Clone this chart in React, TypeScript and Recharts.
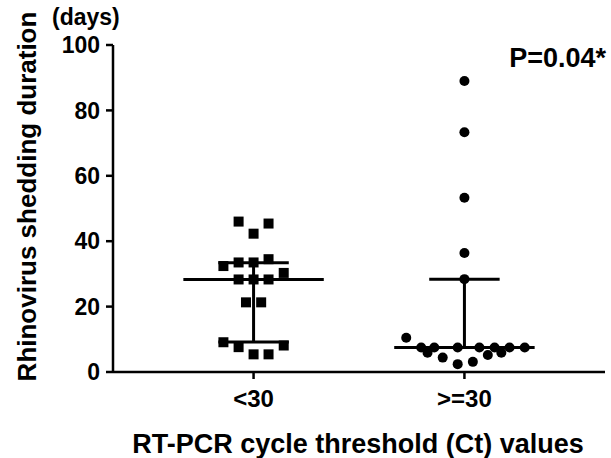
import React from "react";
import {
  ScatterChart,
  Scatter,
  XAxis,
  YAxis,
  ReferenceLine,
} from "recharts";

const categories = ["<30", ">=30"];

// Ct < 30 group (squares): horizontal jitter (category units) and days
const lowCtJitter = [-0.071, 0.071, 0, 0.071, -0.071, 0, -0.143, 0.143, -0.071, 0, 0.071, -0.036, 0.036, -0.143, 0.143, -0.071, 0, 0.071];
const lowCtDays = [46, 45.4, 42.3, 34.5, 33.5, 33.5, 32.4, 30.3, 28.3, 28.3, 28.3, 21.3, 21.3, 9.1, 8.1, 7.6, 5.4, 5.4];

// Ct >= 30 group (circles)
const highCtJitter = [0, 0, 0, 0, 0, -0.276, -0.205, -0.143, -0.032, 0.071, 0.143, 0.214, 0.286, -0.175, 0.111, 0.175, -0.103, 0.04, -0.032];
const highCtDays = [89, 73.3, 53.3, 36.4, 28.4, 10.5, 7.5, 7.5, 7.5, 7.5, 7.5, 7.5, 7.5, 5.9, 5.2, 5.9, 4.4, 3.1, 2.4];

// Median with interquartile range
const medians = [28.3, 7.5];
const lowerQuartiles = [9.2, 7.5];
const upperQuartiles = [33.4, 28.4];

const yTicks = [0, 20, 40, 60, 80, 100];

const FONT = "'Liberation Sans', Arial, Helvetica, sans-serif";

const lowData = lowCtDays.map((y, i) => ({ x: 1 + lowCtJitter[i], y }));
const highData = highCtDays.map((y, i) => ({ x: 2 + highCtJitter[i], y }));

const Square = (props: any) => {
  const { cx, cy } = props;
  return <rect x={cx - 5} y={cy - 5} width={10} height={10} fill="#000" />;
};
const Dot = (props: any) => {
  const { cx, cy } = props;
  return <circle cx={cx} cy={cy} r={5} fill="#000" />;
};

export default function App() {
  const lineProps = { stroke: "#000", strokeWidth: 3, ifOverflow: "visible" as const };
  return (
    <div style={{ position: "absolute", left: 0, top: 0, width: 611, height: 458, background: "#fff" }}>
      <ScatterChart width={611} height={458} margin={{ top: 45, right: 6, left: 0, bottom: 0 }}>
        <XAxis
          type="number"
          dataKey="x"
          domain={[1 / 3, 8 / 3]}
          ticks={[1, 2]}
          tickFormatter={(v: number) => categories[Math.round(v) - 1]}
          height={86}
          axisLine={{ stroke: "#000", strokeWidth: 2.5 }}
          tickLine={{ stroke: "#000", strokeWidth: 2.5 }}
          tickSize={7}
          tickMargin={11}
          tick={{ fontSize: 24, fontWeight: "bold", fill: "#000", fontFamily: FONT }}
        />
        <YAxis
          type="number"
          dataKey="y"
          domain={[0, 100]}
          ticks={yTicks}
          width={113}
          axisLine={{ stroke: "#000", strokeWidth: 2.5 }}
          tickLine={{ stroke: "#000", strokeWidth: 2.5 }}
          tickSize={7}
          tickMargin={6}
          tick={{ fontSize: 23, fontWeight: "bold", fill: "#000", fontFamily: FONT }}
        />
        {medians.map((m, i) => (
          <ReferenceLine key={"m" + i} segment={[{ x: i + 1 - 0.333, y: m }, { x: i + 1 + 0.333, y: m }]} {...lineProps} />
        ))}
        {upperQuartiles.map((q, i) => (
          <ReferenceLine key={"u" + i} segment={[{ x: i + 1 - 0.167, y: q }, { x: i + 1 + 0.167, y: q }]} {...lineProps} />
        ))}
        {lowerQuartiles.map((q, i) => (
          <ReferenceLine key={"l" + i} segment={[{ x: i + 1 - 0.167, y: q }, { x: i + 1 + 0.167, y: q }]} {...lineProps} />
        ))}
        {medians.map((_, i) => (
          <ReferenceLine key={"v" + i} segment={[{ x: i + 1, y: lowerQuartiles[i] }, { x: i + 1, y: upperQuartiles[i] }]} {...lineProps} />
        ))}
        <Scatter data={lowData} shape={Square} isAnimationActive={false} />
        <Scatter data={highData} shape={Dot} isAnimationActive={false} />
      </ScatterChart>
      <svg width={611} height={458} style={{ position: "absolute", left: 0, top: 0, pointerEvents: "none" }}>
        <text x={52} y={25} fontSize={23} fontWeight="bold" fontFamily={FONT} fill="#000">(days)</text>
        <text x={606} y={67} fontSize={27} fontWeight="bold" fontFamily={FONT} fill="#000" textAnchor="end">P=0.04*</text>
        <text x={358} y={453} fontSize={27} fontWeight="bold" fontFamily={FONT} fill="#000" textAnchor="middle">RT-PCR cycle threshold (Ct) values</text>
        <text x={36} y={196.5} fontSize={26} fontWeight="bold" fontFamily={FONT} fill="#000" textAnchor="middle" transform="rotate(-90, 36, 196.5)">Rhinovirus shedding duration</text>
      </svg>
    </div>
  );
}
